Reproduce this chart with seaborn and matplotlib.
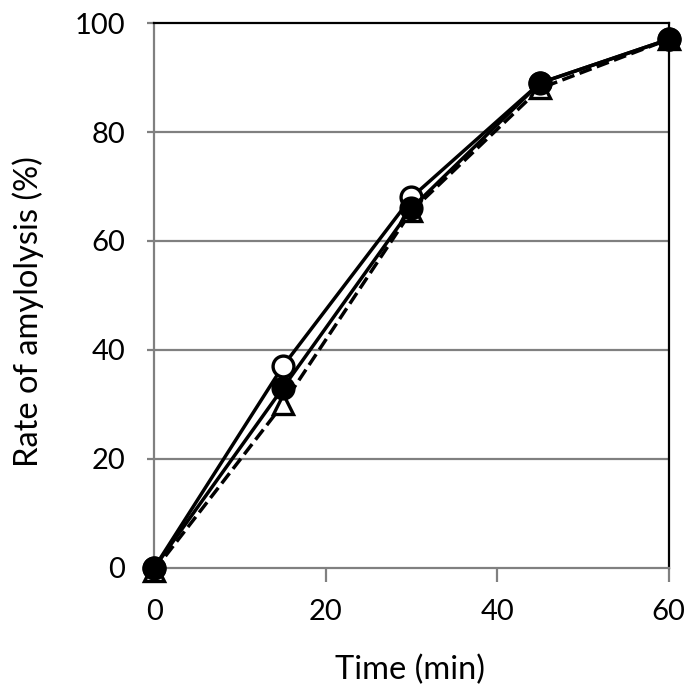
import numpy as np
import pandas as pd
import matplotlib
matplotlib.use("Agg")
import matplotlib.pyplot as plt
import seaborn as sns

time_min = [0, 15, 30, 45, 60]
open_circle = [0, 37, 68, 89, 97]
filled_circle = [0, 33, 66, 89, 97]
open_triangle = [-0.5, 30, 65.5, 88, 97]

sns.set_theme(style="white")
plt.rcParams['font.family'] = ['Lato', 'DejaVu Sans']
plt.rcParams['text.color'] = 'black'
plt.rcParams['axes.labelcolor'] = 'black'
plt.rcParams['xtick.color'] = 'black'
plt.rcParams['ytick.color'] = 'black'

fig = plt.figure(figsize=(6.88, 6.93), dpi=100)
ax = fig.add_axes([0.224, 0.1804, 0.748, 0.7864])

grey = "#808080"
for yv in [20, 40, 60, 80]:
    ax.axhline(yv, color=grey, lw=1.6, zorder=0)

common = dict(ax=ax, color="black", linewidth=2.5, markersize=15,
              markeredgewidth=2.4, clip_on=False)

sns.lineplot(x=time_min, y=open_circle, marker="o", markerfacecolor="white",
             markeredgecolor="black", zorder=3, **common)
sns.lineplot(x=time_min, y=open_triangle, marker="^", markerfacecolor="white",
             markeredgecolor="black", linestyle="--", dashes=(3, 2), zorder=4, **common)
sns.lineplot(x=time_min, y=filled_circle, marker="o", markerfacecolor="black",
             markeredgecolor="black", zorder=5, **common)

ax.set_xlim(0, 60)
ax.set_ylim(0, 100)
ax.set_xticks([0, 20, 40, 60])
ax.set_yticks([0, 20, 40, 60, 80, 100])

for side in ["left", "bottom"]:
    ax.spines[side].set_color(grey)
    ax.spines[side].set_linewidth(1.6)
for side in ["top", "right"]:
    ax.spines[side].set_color("black")
    ax.spines[side].set_linewidth(1.6)
for s in ax.spines.values():
    s.set_zorder(1)

ax.tick_params(axis="x", direction="out", length=10, width=1.6, color=grey,
               labelsize=21, labelcolor="black", pad=12, bottom=True)
ax.tick_params(axis="y", direction="out", length=5, width=1.6, color=grey,
               labelsize=21, labelcolor="black", pad=16, left=True)

ax.set_xlabel("Time (min)", fontsize=23.5, va="center")
ax.set_ylabel("Rate of amylolysis (%)", fontsize=23.5, va="center")
ax.xaxis.set_label_coords(0.497, -0.187)
ax.yaxis.set_label_coords(-0.245, 0.47)

fig.savefig("out.png", dpi=100)
